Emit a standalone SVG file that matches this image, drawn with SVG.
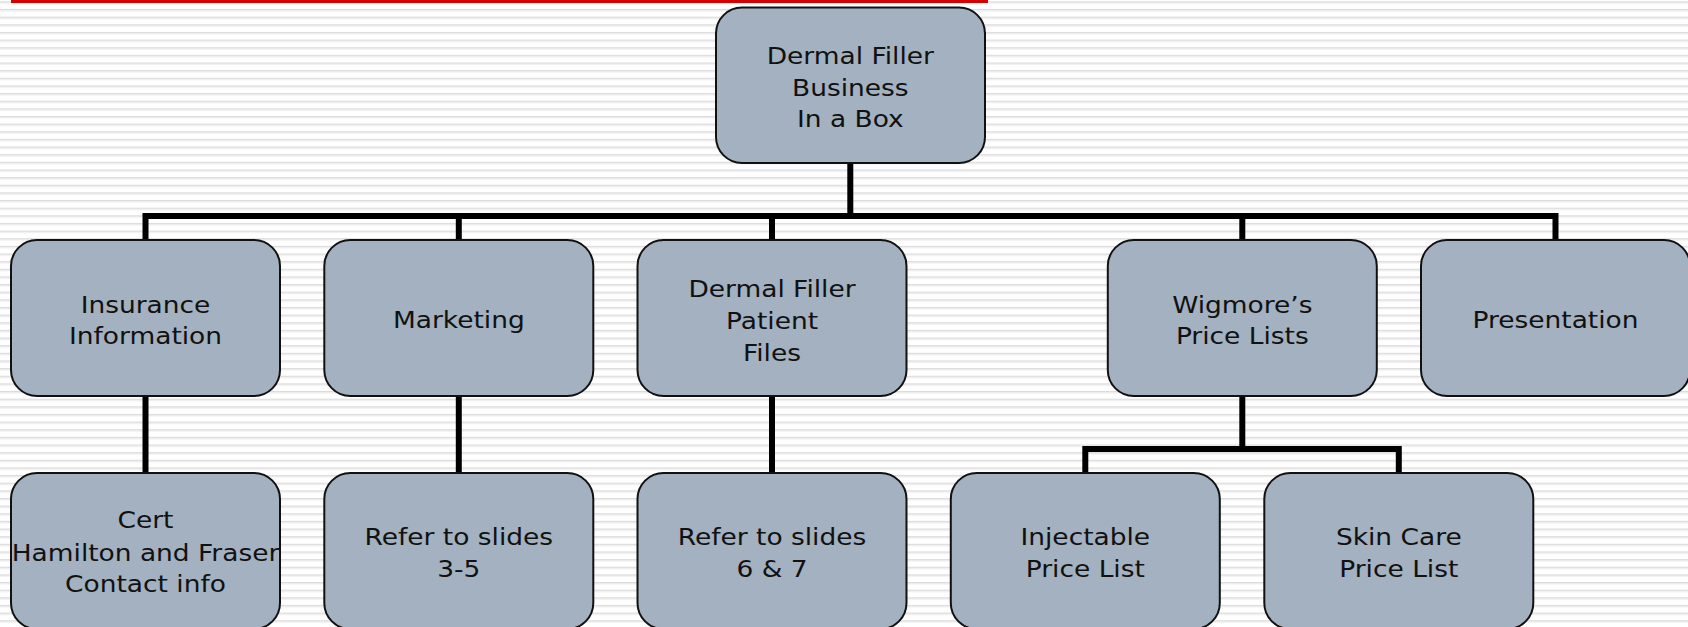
<svg xmlns="http://www.w3.org/2000/svg" width="1688" height="627" viewBox="0 0 1688 627">
  <defs>
    <pattern id="stripes" patternUnits="userSpaceOnUse" x="0" y="9" width="20" height="7.64">
      <rect x="0" y="0" width="20" height="7.64" fill="#ffffff"/>
      <rect x="0" y="0" width="20" height="1.4" fill="#dcdcdc"/>
      <rect x="0" y="1.4" width="20" height="1" fill="#ececec"/>
    </pattern>
    <style>
      .node { fill: #a3b1c0; stroke: #111111; stroke-width: 2; }
      .lbl { font-family: "DejaVu Sans", Verdana, sans-serif; font-size: 23px; fill: #111111; text-anchor: middle; }
      .conn { fill: none; stroke: #000000; stroke-width: 6; }
    </style>
  </defs>
  <rect x="0" y="0" width="1688" height="627" fill="url(#stripes)"/>
  <rect x="11" y="0" width="977" height="3" fill="#d60000"/>

  <g id="connectors">
    <path class="conn" d="M850.3 163 V216"/>
    <path class="conn" d="M145.5 240 V216 H1555.5 V240"/>
    <path class="conn" d="M458.8 216 V240"/>
    <path class="conn" d="M772 216 V240"/>
    <path class="conn" d="M1242.3 216 V240"/>
    <path class="conn" d="M145.5 396 V473"/>
    <path class="conn" d="M458.8 396 V473"/>
    <path class="conn" d="M772 396 V473"/>
    <path class="conn" d="M1242.3 396 V449"/>
    <path class="conn" d="M1085.3 473 V449 H1398.8 V473"/>
  </g>

  <g id="root">
    <rect class="node" x="716" y="7.5" width="269" height="155.5" rx="26"/>
    <text class="lbl" transform="translate(850.3 0) scale(1.15 1)"><tspan x="0" y="64">Dermal Filler</tspan><tspan x="0" y="95.7">Business</tspan><tspan x="0" y="127.5">In a Box</tspan></text>
  </g>

  <g id="insurance">
    <rect class="node" x="11" y="240" width="269" height="156" rx="26"/>
    <text class="lbl" transform="translate(145.5 0) scale(1.15 1)"><tspan x="0" y="312.7">Insurance</tspan><tspan x="0" y="344.3">Information</tspan></text>
  </g>

  <g id="marketing">
    <rect class="node" x="324.3" y="240" width="269" height="156" rx="26"/>
    <text class="lbl" transform="translate(458.8 0) scale(1.15 1)"><tspan x="0" y="328.5">Marketing</tspan></text>
  </g>

  <g id="patient-files">
    <rect class="node" x="637.5" y="240" width="269" height="156" rx="26"/>
    <text class="lbl" transform="translate(772 0) scale(1.15 1)"><tspan x="0" y="296.7">Dermal Filler</tspan><tspan x="0" y="329">Patient</tspan><tspan x="0" y="360.7">Files</tspan></text>
  </g>

  <g id="wigmore">
    <rect class="node" x="1107.8" y="240" width="269" height="156" rx="26"/>
    <text class="lbl" transform="translate(1242.3 0) scale(1.15 1)"><tspan x="0" y="312.7">Wigmore’s</tspan><tspan x="0" y="344.3">Price Lists</tspan></text>
  </g>

  <g id="presentation">
    <rect class="node" x="1421" y="240" width="269" height="156" rx="26"/>
    <text class="lbl" transform="translate(1555.5 0) scale(1.15 1)"><tspan x="0" y="328.5">Presentation</tspan></text>
  </g>

  <g id="cert">
    <rect class="node" x="11" y="473" width="269" height="156" rx="26"/>
    <text class="lbl" transform="translate(145.5 0) scale(1.15 1)"><tspan x="0" y="528.3">Cert</tspan><tspan x="0" y="560.7">Hamilton and Fraser</tspan><tspan x="0" y="592.3">Contact info</tspan></text>
  </g>

  <g id="slides-3-5">
    <rect class="node" x="324.3" y="473" width="269" height="156" rx="26"/>
    <text class="lbl" transform="translate(458.8 0) scale(1.15 1)"><tspan x="0" y="545.3">Refer to slides</tspan><tspan x="0" y="577">3-5</tspan></text>
  </g>

  <g id="slides-6-7">
    <rect class="node" x="637.5" y="473" width="269" height="156" rx="26"/>
    <text class="lbl" transform="translate(772 0) scale(1.15 1)"><tspan x="0" y="545.3">Refer to slides</tspan><tspan x="0" y="577">6 &amp; 7</tspan></text>
  </g>

  <g id="injectable">
    <rect class="node" x="950.8" y="473" width="269" height="156" rx="26"/>
    <text class="lbl" transform="translate(1085.3 0) scale(1.15 1)"><tspan x="0" y="545.3">Injectable</tspan><tspan x="0" y="577">Price List</tspan></text>
  </g>

  <g id="skin-care">
    <rect class="node" x="1264.3" y="473" width="269" height="156" rx="26"/>
    <text class="lbl" transform="translate(1398.8 0) scale(1.15 1)"><tspan x="0" y="545.3">Skin Care</tspan><tspan x="0" y="577">Price List</tspan></text>
  </g>
</svg>
